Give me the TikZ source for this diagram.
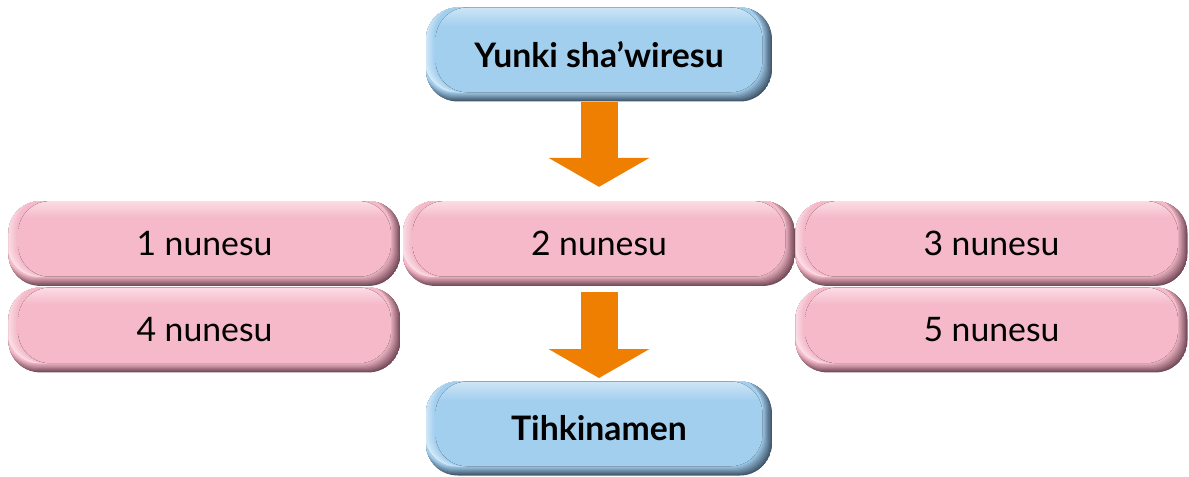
\documentclass[tikz,border=0pt]{standalone}
\usepackage{fontspec}
\setmainfont{Lato}
\usepackage{tikz}
\usetikzlibrary{arrows.meta}
\definecolor{bluebase}{RGB}{163,207,238}
\definecolor{bluelight}{RGB}{206,229,246}
\definecolor{bluedark}{RGB}{66,88,108}
\definecolor{pinkbase}{RGB}{245,185,201}
\definecolor{pinklight}{RGB}{251,221,229}
\definecolor{pinkdark}{RGB}{118,76,90}
\definecolor{flowcolor}{RGB}{239,127,0}
\pgfdeclareverticalshading{blueface}{100bp}{color(0bp)=(bluebase); color(64bp)=(bluebase); color(75bp)=(bluelight); color(100bp)=(bluelight)}
\pgfdeclareverticalshading{pinkface}{100bp}{color(0bp)=(pinkbase); color(64bp)=(pinkbase); color(75bp)=(pinklight); color(100bp)=(pinklight)}
% bevelled face: dark steps to the right and bottom, light steps to the left, then the face
\newcommand{\bevelface}[3]{%
  \foreach \i [evaluate=\i as \mix using int(\i*12.5)] in {0,...,8}
    \fill[#1!\mix!#2, rounded corners=0.8cm] ([xshift=-0.1cm, yshift=\i*0.028cm]path picture bounding box.south west) rectangle ([xshift=-\i*0.03cm, yshift=0.1cm]path picture bounding box.north east);
  \foreach \i [evaluate=\i as \mix using int(45+\i*11)] in {0,...,5}
    \fill[#1!\mix!white, rounded corners=0.8cm] ([xshift=\i*0.045cm-0.03cm, yshift=0.23cm]path picture bounding box.south west) rectangle ([xshift=-0.24cm, yshift=0.1cm]path picture bounding box.north east);
  \fill[shading=#3, rounded corners=0.8cm] ([xshift=0.24cm, yshift=0.23cm]path picture bounding box.south west) rectangle ([xshift=-0.24cm]path picture bounding box.north east);}
\tikzstyle{bevel} = [rectangle, text centered, rounded corners=0.8cm, font=\fontsize{24}{28}\selectfont]
\tikzstyle{stagebox} = [bevel, minimum width=8.65cm, minimum height=2.35cm, font=\fontsize{24}{28}\selectfont\bfseries,
  path picture={\bevelface{bluebase}{bluedark}{blueface}}]
\tikzstyle{yearbox} = [bevel, minimum width=9.8cm, minimum height=2.12cm,
  path picture={\bevelface{pinkbase}{pinkdark}{pinkface}}]
\tikzstyle{flow} = [draw=flowcolor, line width=0.925cm, -{Triangle[width=2.525cm, length=0.725cm, line width=0pt]}]

\begin{document}
\begin{tikzpicture}
        \useasboundingbox (0,0) rectangle (29.725,-11.925);
        \node (start) [stagebox] at (14.975,-1.3625) {Yunki sha’wiresu};
        \node (year-2) [yearbox, below of = start, yshift = -3.725cm] {2 nunesu};
        \node (year-1) [yearbox, left of = year-2, xshift = -8.8625cm] {1 nunesu};
        \node (year-3) [yearbox, right of = year-2, xshift = 8.8125cm] {3 nunesu};
        \node (year-4) [yearbox, below of = year-1, yshift = -1.1625cm] {4 nunesu};
        \node (year-5) [yearbox, below of = year-3, yshift = -1.1625cm] {5 nunesu};
        \node (end) [stagebox, below of = year-2, yshift = -3.625cm] {Tihkinamen};
        \draw [flow] (start.south) -- ([yshift=0.35cm]year-2.north);
        \draw [flow] ([yshift=-0.15cm]year-2.south) -- ([yshift=0.08cm]end.north);
\end{tikzpicture}
\end{document}
